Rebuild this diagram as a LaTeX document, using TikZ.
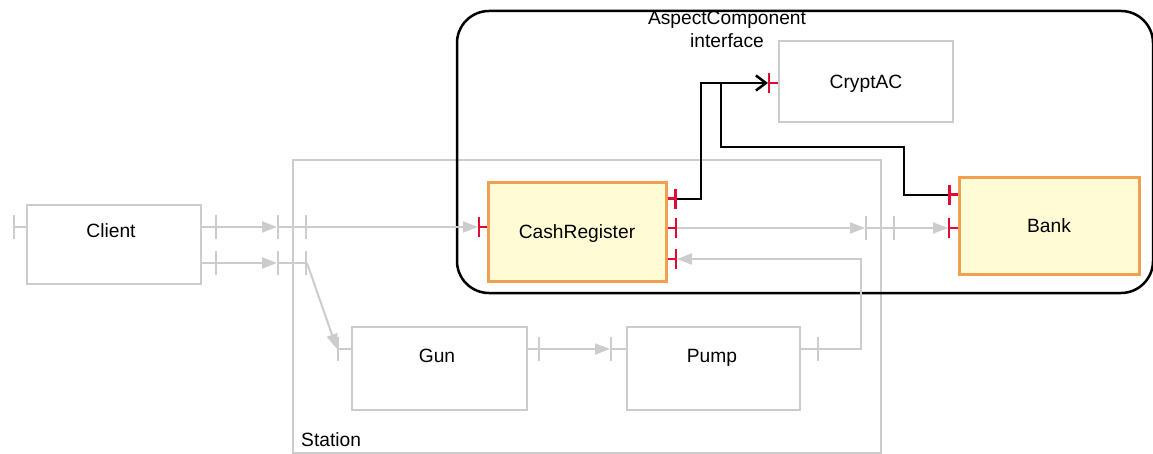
\documentclass[tikz,border=0pt]{standalone}
\usepackage{fontspec}
\setmainfont{Liberation Sans}
\usetikzlibrary{arrows.meta}
\definecolor{boxgray}{RGB}{204,204,204}
\definecolor{portred}{RGB}{225,10,50}
\definecolor{acorange}{RGB}{240,160,80}
\definecolor{acyellow}{RGB}{255,251,212}

\begin{document}
\begin{tikzpicture}[x=1pt,y=-1pt,
    txt/.style={font=\fontsize{19.2}{23}\selectfont, inner sep=0pt, text height=13.8pt, text depth=0pt},
    graybox/.style={draw=boxgray, line width=2pt, inner sep=0pt},
    acbox/.style={draw=acorange, fill=acyellow, line width=3pt, inner sep=0pt, txt},
    grayport/.style={draw=boxgray, line width=2pt, {Bar[width=24pt]}-},
    stport/.style={draw=boxgray, line width=2pt, {Bar[width=24pt]}-{Bar[width=24pt]}},
    redport/.style={draw=portred, line width=2pt, {Bar[width=20pt]}-},
    flow/.style={draw=boxgray, line width=2pt, -{Triangle[length=15pt,width=11pt]}},
    acline/.style={draw=black, line width=2.5pt},
  ]
    \useasboundingbox (0,0) rectangle (1153,454);

    % Draw the containers
    \node[graybox, minimum width=588pt, minimum height=293pt] (station) at (587,306.5) {};
    \node[txt, anchor=west] (stationlbl) at (301,440) {Station};
    \node[draw, line width=2.5pt, rounded corners=32pt, minimum width=696pt, minimum height=282pt] (aspect) at (805,152) {};
    \node[txt, align=center] (aspectlbl) at (727,40.5) {AspectComponent\\interface};

    % Draw the components
    \node[graybox, minimum width=174pt, minimum height=79pt] (client) at (114,244.5) {};
    \node[txt] (clientlbl) at (111,231) {Client};
    \node[graybox, minimum width=175pt, minimum height=83pt] (gun) at (439.5,368.5) {};
    \node[txt] (gunlbl) at (437,356) {Gun};
    \node[graybox, minimum width=173pt, minimum height=83pt] (pump) at (713.5,368.5) {};
    \node[txt] (pumplbl) at (712,356) {Pump};
    \node[graybox, txt, minimum width=174pt, minimum height=81pt] (crypt) at (866,81.5) {CryptAC};
    \node[acbox, minimum width=178pt, minimum height=98pt] (cash) at (577,232) {CashRegister};
    \node[acbox, minimum width=180pt, minimum height=97pt] (bank) at (1049,226) {Bank};

    % Port end points
    \coordinate (cl0) at (13,227);
    \coordinate (cl1) at (217,227);
    \coordinate (cl2) at (217,263);
    \coordinate (st1o) at (277,227);
    \coordinate (st1i) at (307,227);
    \coordinate (st2o) at (277,263);
    \coordinate (st2i) at (307,263);
    \coordinate (st3i) at (865,228);
    \coordinate (st3o) at (895,228);
    \coordinate (gnIn) at (337,349);
    \coordinate (gnOut) at (540,349);
    \coordinate (pmIn) at (610,349);
    \coordinate (pmOut) at (819,349);
    \coordinate (crIn) at (478,227);
    \coordinate (crA) at (677,199);
    \coordinate (crB) at (677,228);
    \coordinate (crC) at (677,259);
    \coordinate (bkA) at (948,195);
    \coordinate (bkB) at (948,228);
    \coordinate (caIn) at (768,83);
    \coordinate (jn) at (721,83);

    % Draw the flows
    \draw[flow] (cl1) -- (st1o);
    \draw[flow] (st1i) -- (crIn);
    \draw[flow] (cl2) -- (st2o);
    \draw[flow] (st2i) -- (gnIn);
    \draw[flow] (gnOut) -- (pmIn);
    \draw[flow] (pmOut) -- ++(42,0) |- (crC);
    \draw[flow] (crB) -- (st3i);
    \draw[flow] (st3o) -- (bkB);

    % Draw the aspect links
    \draw[acline, -{Straight Barb[length=10pt,width=15pt]}] (crA) -- ++(24,0) |- (caIn);
    \draw[acline] (jn) -- ++(0,64) -| ([xshift=-44pt]bkA) -- (bkA);

    % Draw the ports
    \draw[grayport] (cl0) -- (cl0 -| client.west);
    \draw[grayport] (cl1) -- (cl1 -| client.east);
    \draw[grayport] (cl2) -- (cl2 -| client.east);
    \draw[stport] (st1o) -- (st1i);
    \draw[stport] (st2o) -- (st2i);
    \draw[stport] (st3i) -- (st3o);
    \draw[grayport] (gnIn) -- (gnIn -| gun.west);
    \draw[grayport] (gnOut) -- (gnOut -| gun.east);
    \draw[grayport] (pmIn) -- (pmIn -| pump.west);
    \draw[grayport] (pmOut) -- (pmOut -| pump.east);
    \draw[redport] (crIn) -- (crIn -| cash.west);
    \draw[redport, line width=3pt] (crA) -- (crA -| cash.east);
    \draw[redport] (crB) -- (crB -| cash.east);
    \draw[redport] (crC) -- (crC -| cash.east);
    \draw[redport, line width=3pt] (bkA) -- (bkA -| bank.west);
    \draw[redport] (bkB) -- (bkB -| bank.west);
    \draw[redport] (caIn) -- (caIn -| crypt.west);
\end{tikzpicture}
\end{document}
